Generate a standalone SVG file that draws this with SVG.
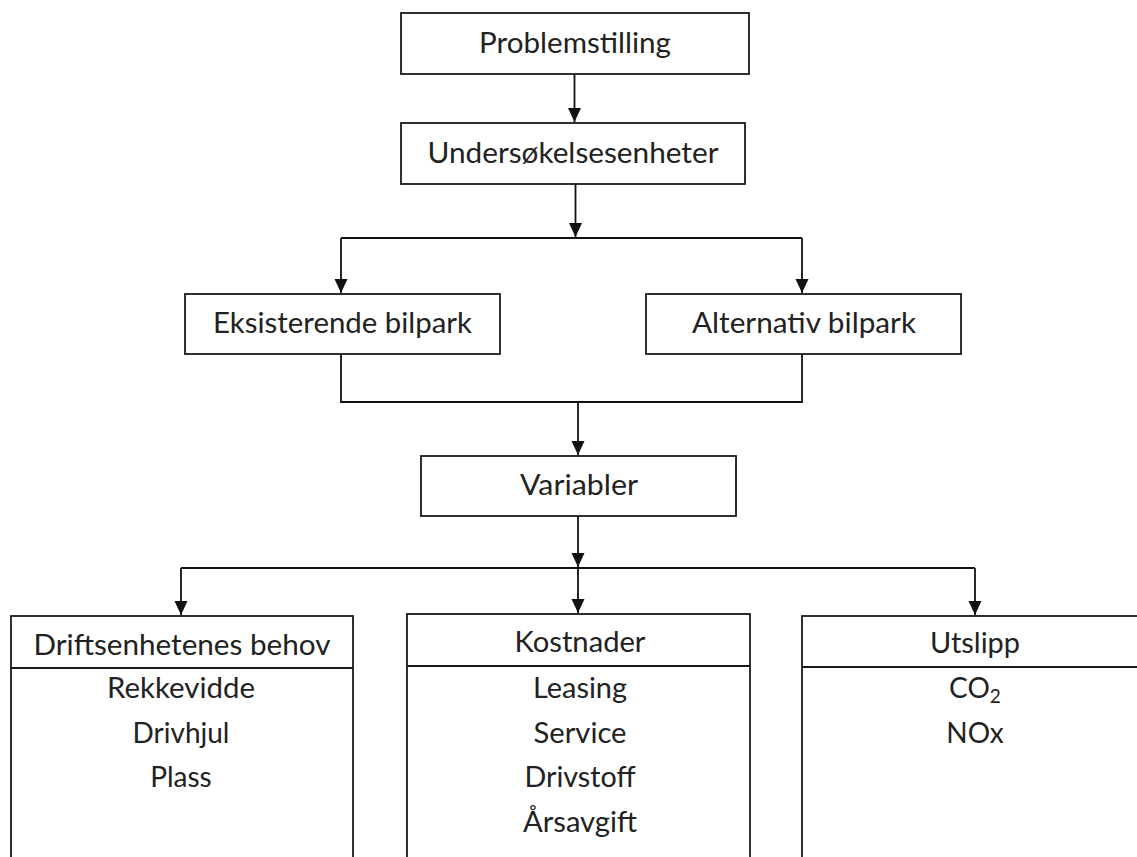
<svg xmlns="http://www.w3.org/2000/svg" width="1137" height="857" viewBox="0 0 1137 857">
<style>
.box{fill:#fff;stroke:#1a1a1a;stroke-width:1.8}
.div{stroke:#1a1a1a;stroke-width:1.8}
.t{font-family:Lato,"Liberation Sans",sans-serif;font-size:28px;fill:#222;text-anchor:middle}
.c{fill:none;stroke:#111;stroke-width:1.8}
</style>
<defs>
<marker id="ah" markerUnits="userSpaceOnUse" markerWidth="14" markerHeight="14" refX="14" refY="6.5" orient="auto">
<path d="M0,0 L14,6.5 L0,13 z" fill="#111"/>
</marker>
</defs>
<g id="connectors">
<path class="c" d="M574.5,74 V122" marker-end="url(#ah)"/>
<path class="c" d="M575.5,184 V237" marker-end="url(#ah)"/>
<path class="c" d="M341,238 H802"/>
<path class="c" d="M341,238 V293" marker-end="url(#ah)"/>
<path class="c" d="M802,238 V293" marker-end="url(#ah)"/>
<path class="c" d="M341,354 V402 H802 V354"/>
<path class="c" d="M578,402 V455" marker-end="url(#ah)"/>
<path class="c" d="M578,516 V567" marker-end="url(#ah)"/>
<path class="c" d="M181,568 H975"/>
<path class="c" d="M181,568 V615" marker-end="url(#ah)"/>
<path class="c" d="M578,568 V613" marker-end="url(#ah)"/>
<path class="c" d="M975,568 V615" marker-end="url(#ah)"/>
</g>
<g id="problemstilling">
<rect class="box" x="401" y="13" width="348" height="61"/>
<text class="t" x="575" y="53" textLength="192" lengthAdjust="spacingAndGlyphs">Problemstilling</text>
</g>
<g id="undersokelsesenheter">
<rect class="box" x="401" y="123" width="344" height="61"/>
<text class="t" x="573" y="163" textLength="291" lengthAdjust="spacingAndGlyphs">Undersøkelsesenheter</text>
</g>
<g id="eksisterende">
<rect class="box" x="185" y="294" width="315" height="60"/>
<text class="t" x="342.5" y="333" textLength="259" lengthAdjust="spacingAndGlyphs">Eksisterende bilpark</text>
</g>
<g id="alternativ">
<rect class="box" x="646" y="294" width="315" height="60"/>
<text class="t" x="804" y="333" textLength="224" lengthAdjust="spacingAndGlyphs">Alternativ bilpark</text>
</g>
<g id="variabler">
<rect class="box" x="421" y="456" width="315" height="60"/>
<text class="t" x="579" y="495" textLength="118" lengthAdjust="spacingAndGlyphs">Variabler</text>
</g>
<g id="driftsenhetenes">
<rect class="box" x="11" y="616" width="342" height="260"/>
<line class="div" x1="11" y1="668" x2="353" y2="668"/>
<text class="t" x="182" y="655" textLength="297" lengthAdjust="spacingAndGlyphs">Driftsenhetenes behov</text>
<text class="t" x="181" y="698" textLength="148" lengthAdjust="spacingAndGlyphs">Rekkevidde</text>
<text class="t" x="181" y="743">Drivhjul</text>
<text class="t" x="181" y="787">Plass</text>
</g>
<g id="kostnader">
<rect class="box" x="407" y="614" width="343" height="260"/>
<line class="div" x1="407" y1="666" x2="750" y2="666"/>
<text class="t" x="580" y="652" textLength="131" lengthAdjust="spacingAndGlyphs">Kostnader</text>
<text class="t" x="580" y="698" textLength="94" lengthAdjust="spacingAndGlyphs">Leasing</text>
<text class="t" x="580" y="743" textLength="93" lengthAdjust="spacingAndGlyphs">Service</text>
<text class="t" x="580" y="787" textLength="111" lengthAdjust="spacingAndGlyphs">Drivstoff</text>
<text class="t" x="580" y="832" textLength="114" lengthAdjust="spacingAndGlyphs">Årsavgift</text>
</g>
<g id="utslipp">
<rect class="box" x="802" y="616" width="400" height="260"/>
<line class="div" x1="802" y1="667" x2="1137" y2="667"/>
<text class="t" x="975" y="653" textLength="90" lengthAdjust="spacingAndGlyphs">Utslipp</text>
<text class="t" x="975" y="698">CO<tspan font-size="19" dy="5">2</tspan></text>
<text class="t" x="975" y="743">NOx</text>
</g>
</svg>
